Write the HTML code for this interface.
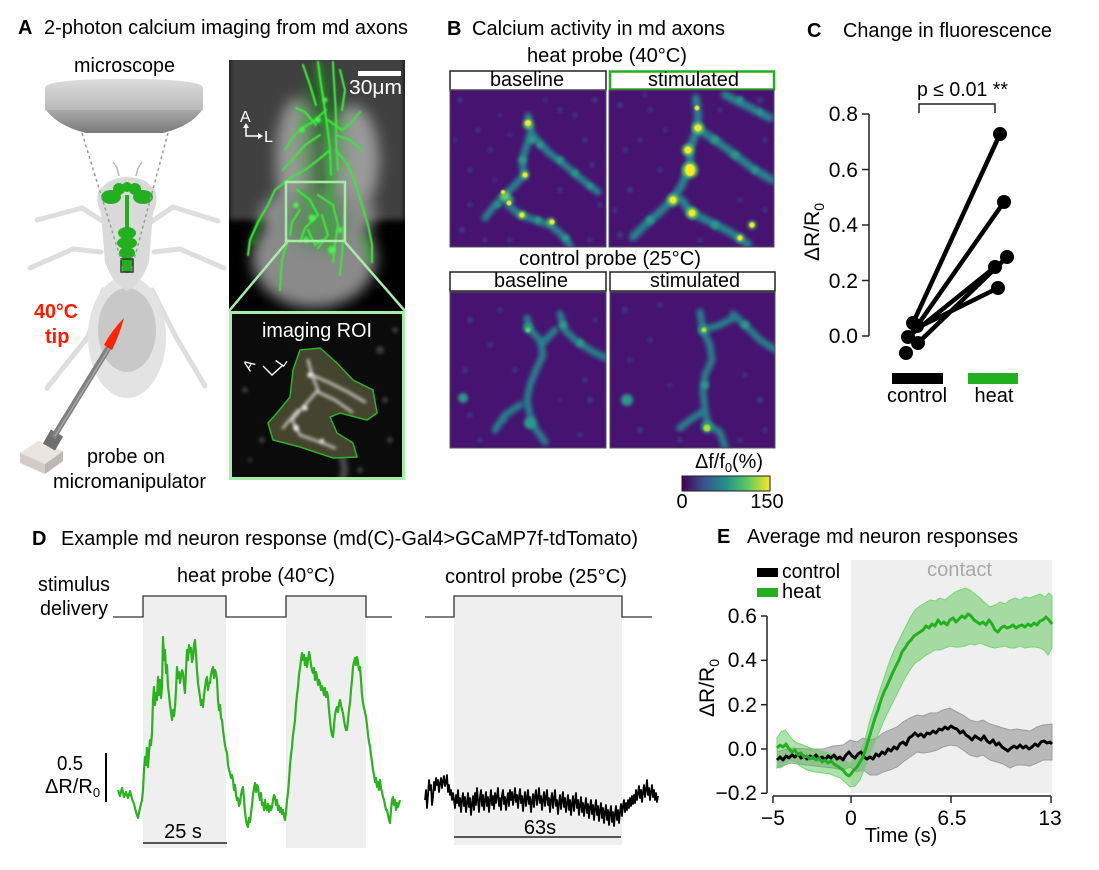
<!DOCTYPE html>
<html><head><meta charset="utf-8"><style>
html,body{margin:0;padding:0;background:#fff;}
svg{display:block;font-family:"Liberation Sans",Arial,sans-serif;}
</style></head><body>
<svg width="1099" height="870" viewBox="0 0 1099 870" xmlns="http://www.w3.org/2000/svg">
<defs>
<filter id="b06" filterUnits="userSpaceOnUse" x="0" y="0" width="1099" height="870"><feGaussianBlur stdDeviation="0.6"/></filter>
<filter id="b1" filterUnits="userSpaceOnUse" x="0" y="0" width="1099" height="870"><feGaussianBlur stdDeviation="1"/></filter>
<filter id="b15" filterUnits="userSpaceOnUse" x="0" y="0" width="1099" height="870"><feGaussianBlur stdDeviation="1.5"/></filter>
<filter id="b22" filterUnits="userSpaceOnUse" x="0" y="0" width="1099" height="870"><feGaussianBlur stdDeviation="2.2"/></filter>
<filter id="b3" filterUnits="userSpaceOnUse" x="0" y="0" width="1099" height="870"><feGaussianBlur stdDeviation="3"/></filter>
<filter id="b7" filterUnits="userSpaceOnUse" x="0" y="0" width="1099" height="870"><feGaussianBlur stdDeviation="7"/></filter>
<linearGradient id="vir" x1="0" x2="1" y1="0" y2="0">
<stop offset="0" stop-color="#440154"/><stop offset="0.25" stop-color="#3b528b"/><stop offset="0.5" stop-color="#21918c"/><stop offset="0.75" stop-color="#5ec962"/><stop offset="1" stop-color="#fde725"/>
</linearGradient>
<linearGradient id="mscTop" x1="0" x2="0" y1="0" y2="1"><stop offset="0" stop-color="#dcdcdc"/><stop offset="1" stop-color="#b9b9b9"/></linearGradient>
<linearGradient id="mscBot" x1="0" x2="0" y1="0" y2="1"><stop offset="0" stop-color="#a9a9a9"/><stop offset="1" stop-color="#7a7a7a"/></linearGradient>
<clipPath id="cMic"><rect x="229" y="60" width="176" height="251"/></clipPath>
<clipPath id="cIns"><rect x="230" y="312" width="174" height="167"/></clipPath>
<clipPath id="cH1"><rect x="450" y="90" width="156" height="157"/></clipPath>
<clipPath id="cH2"><rect x="609" y="90" width="165" height="157"/></clipPath>
<clipPath id="cH3"><rect x="450" y="292" width="156" height="156"/></clipPath>
<clipPath id="cH4"><rect x="610" y="292" width="165" height="156"/></clipPath>
</defs>

<!-- ================= PANEL A ================= -->
<text x="18" y="34" font-size="20" font-weight="bold">A</text>
<text x="44" y="34" font-size="20" textLength="364" lengthAdjust="spacingAndGlyphs">2-photon calcium imaging from md axons</text>
<text x="74" y="72" font-size="20" textLength="101" lengthAdjust="spacingAndGlyphs">microscope</text>

<path d="M45,88 Q45,79 124,79 Q203,79 203,88 L203,110 L45,110 Z" fill="url(#mscTop)"/>
<path d="M46,110 Q58,126 86,133 L163,133 Q191,126 202,110 Z" fill="url(#mscBot)"/>

<g stroke="#dedede" stroke-width="5" fill="none" stroke-linecap="round" stroke-linejoin="round">
<path d="M104,222 L82,208 L37,220"/>
<path d="M151,222 L173,207 L218,221"/>
<path d="M101,252 L73,249 L30,268"/>
<path d="M154,252 L180,249 L224,268"/>
<path d="M103,290 L88,337 L47,388"/>
<path d="M152,290 L176,337 L205,386"/>
</g>
<ellipse cx="127" cy="337" rx="39" ry="61" fill="#e3e3e3"/>
<ellipse cx="127" cy="330" rx="29" ry="42" fill="#c8c8c8"/>
<path d="M119,176 L117,168 L113,162 M136,176 L138,168 L142,162" stroke="#b8b8b8" stroke-width="1.5" fill="none"/>
<path d="M108,182 Q127,172 147,182 L155,190 Q159,200 153,213 L149,262 Q142,283 127,291 Q112,283 105,262 L101,213 Q95,200 99,190 Z" fill="#dadada"/>
<g fill="#22b01e">
<ellipse cx="111" cy="197" rx="10" ry="7"/><ellipse cx="143" cy="197" rx="10" ry="7"/>
<circle cx="119" cy="189" r="6"/><circle cx="135" cy="189" r="6"/><circle cx="127" cy="187" r="5"/>
<rect x="125" y="195" width="4" height="36"/>
<ellipse cx="127" cy="233" rx="9" ry="6"/><ellipse cx="127" cy="243" rx="10" ry="6"/>
<ellipse cx="127" cy="253" rx="8" ry="6"/><ellipse cx="127" cy="263" rx="6" ry="6"/><ellipse cx="127" cy="269" rx="5" ry="4"/>
</g>
<rect x="121" y="259" width="12" height="13" fill="none" stroke="#333" stroke-width="1.5"/>
<path d="M82,133 L121,260 M168,133 L134,260" stroke="#9a9a9a" stroke-width="1.5" stroke-dasharray="3,3" fill="none"/>

<text x="34" y="318" font-size="20" font-weight="bold" fill="#ff1a00" textLength="44" lengthAdjust="spacingAndGlyphs">40°C</text>
<text x="45" y="343" font-size="20" font-weight="bold" fill="#ff1a00">tip</text>

<polygon points="20,453 38,441 63,451 45,464" fill="#ebe5e1"/>
<polygon points="20,453 45,464 45,474 20,463" fill="#d2cbc7"/>
<polygon points="45,464 63,451 63,461 45,474" fill="#bdb6b2"/>
<line x1="49" y1="447" x2="57" y2="433" stroke="#6e6e6e" stroke-width="14"/>
<line x1="53" y1="438" x2="109" y2="347" stroke="#808080" stroke-width="6"/>
<line x1="55" y1="436" x2="110" y2="347" stroke="#a6a6a6" stroke-width="1.5"/>
<path d="M104,345 L112,350 Q119,336 124,318 Q112,330 104,345 Z" fill="#ff2200"/>

<text x="87" y="463" font-size="20" textLength="78" lengthAdjust="spacingAndGlyphs">probe on</text>
<text x="53" y="488" font-size="20" textLength="153" lengthAdjust="spacingAndGlyphs">micromanipulator</text>

<!-- microscope image -->
<g clip-path="url(#cMic)">
<rect x="229" y="60" width="176" height="251" fill="#000"/>
<rect x="229" y="55" width="176" height="165" fill="#404040" filter="url(#b3)"/>
<g filter="url(#b7)">
<ellipse cx="298" cy="160" rx="22" ry="62" fill="#9a9a9a"/>
<ellipse cx="352" cy="160" rx="27" ry="55" fill="#9a9a9a"/>
<ellipse cx="318" cy="215" rx="58" ry="28" fill="#8c8c8c"/>
<ellipse cx="314" cy="258" rx="62" ry="50" fill="#8a8a8a"/>
<path d="M317,82 L318,195" stroke="#2e2e2e" stroke-width="7"/>
</g>
<g fill="#1f8a1f" opacity="0.35" filter="url(#b7)">
<ellipse cx="322" cy="135" rx="24" ry="70"/>
<ellipse cx="318" cy="220" rx="30" ry="30"/>
</g>
<g stroke="#22bb22" stroke-width="5" fill="none" opacity="0.6" filter="url(#b3)">
<path d="M318,62 C322,95 328,125 330,175 L330,255"/>
<path d="M300,190 L312,205 L318,222 L305,240"/>
<path d="M262,215 L252,245"/>
<path d="M362,235 L370,262"/>
<path d="M300,125 L318,118 L338,130"/>
</g>
<g stroke="#3fe23f" stroke-width="2.2" fill="none" filter="url(#b06)" stroke-linecap="round">
<path d="M318,62 C322,95 328,125 330,150 L331,175"/>
<path d="M333,62 C334,90 337,112 336,140 L338,170"/>
<path d="M303,65 L310,85 L316,105"/>
<path d="M340,70 L345,90 L342,110"/>
<path d="M326,110 L313,122 L302,128 L292,138 L285,150"/>
<path d="M328,120 L342,130 L352,122 L360,112"/>
<path d="M316,125 L305,112 L296,108"/>
<path d="M320,135 L305,145 L292,160 L283,170"/>
<path d="M336,135 L350,140 L362,150"/>
<path d="M330,150 L318,160 L305,170 L290,178 L275,190 L268,205 L258,222 L250,240 L248,255"/>
<path d="M336,150 L348,165 L356,185 L362,205 L368,225 L372,245 L372,262"/>
<path d="M297,190 L310,200 L318,215 L305,228 L300,242"/>
<path d="M318,195 L333,205 L338,225 L334,250 L333,262"/>
<path d="M300,210 L292,222 L290,235"/>
<path d="M322,215 L328,235 L318,248"/>
<path d="M345,200 L344,230 L342,255 L340,275"/>
<path d="M288,240 L282,260 L280,290"/>
<path d="M308,230 L315,245 L322,240"/>
</g>
<g fill="#4cf04c" filter="url(#b1)">
<circle cx="332" cy="250" r="4"/><circle cx="312" cy="218" r="3.5"/><circle cx="302" cy="130" r="3"/><circle cx="340" cy="230" r="3"/>
<circle cx="318" cy="120" r="3"/><circle cx="306" cy="240" r="3"/><circle cx="325" cy="100" r="2.5"/><circle cx="296" cy="205" r="3"/>
</g>
</g>
<rect x="358" y="71" width="43" height="5" fill="#fff"/>
<text x="349" y="94" font-size="20" fill="#fff" textLength="53" lengthAdjust="spacingAndGlyphs">30μm</text>
<text x="240" y="122" font-size="16" fill="#fff">A</text>
<path d="M246,124 L246,136 L260,136" stroke="#fff" stroke-width="1.5" fill="none"/>
<path d="M243,128 L246,123 L249,128 Z M258,133 L263,136 L258,139 Z" fill="#fff"/>
<text x="264" y="142" font-size="16" fill="#fff">L</text>
<rect x="286" y="182" width="59" height="59" fill="none" stroke="#a6eca6" stroke-width="2.5"/>
<path d="M287,242 L229,311 M345,242 L405,311" stroke="#a6eca6" stroke-width="2.5"/>

<!-- inset -->
<g clip-path="url(#cIns)">
<rect x="230" y="312" width="174" height="167" fill="#0b0b0b"/>
<g fill="#3a3a3a" filter="url(#b15)">
<circle cx="245" cy="390" r="3"/><circle cx="262" cy="440" r="3"/><circle cx="380" cy="350" r="4"/><circle cx="395" cy="330" r="3"/>
<circle cx="360" cy="470" r="3"/><circle cx="390" cy="440" r="3"/><circle cx="250" cy="460" r="2"/><circle cx="385" cy="400" r="3"/>
</g>
<path d="M340,445 L345,470 L342,480" stroke="#666" stroke-width="5" fill="none" filter="url(#b3)"/>
<path d="M300,350 L320,348 L337,363 L353,380 L373,390 L377,413 L367,420 L340,413 L330,417 L337,433 L353,443 L357,457 L333,458 L300,447 L273,440 L268,423 L277,413 L290,397 L293,370 Z" fill="#45452f" stroke="#25b525" stroke-width="1.5"/>
<g stroke="#e6e6e6" stroke-width="2.5" fill="none" opacity="0.85" filter="url(#b15)" stroke-linecap="round">
<path d="M308,360 L312,375 L318,390 L305,405 L292,420 L300,435 L320,442 L335,448"/>
<path d="M312,375 L330,383 L348,392 L365,402"/>
<path d="M318,392 L335,400 L352,412"/>
<path d="M298,410 L283,428"/>
</g>
<g fill="#fff" filter="url(#b15)"><circle cx="310" cy="375" r="2.5"/><circle cx="305" cy="408" r="2.5"/><circle cx="296" cy="428" r="2.5"/><circle cx="322" cy="441" r="2"/></g>
<text x="262" y="337" font-size="20" fill="#fff" textLength="110" lengthAdjust="spacingAndGlyphs">imaging ROI</text>
<g fill="none" stroke="#fff" stroke-width="1.4">
<path d="M263,366 L272,375 L283,365"/>
</g>
<text transform="translate(250,372) rotate(-55)" font-size="15" fill="#fff">A</text>
<text transform="translate(283,368) rotate(-55)" font-size="15" fill="#fff">L</text>
</g>
<rect x="230.5" y="312.5" width="173" height="166" fill="none" stroke="#a6eca6" stroke-width="3"/>

<!-- ================= PANEL B ================= -->
<text x="447" y="35" font-size="20" font-weight="bold">B</text>
<text x="472" y="35" font-size="20" textLength="253" lengthAdjust="spacingAndGlyphs">Calcium activity in md axons</text>
<text x="527" y="62" font-size="20" textLength="160" lengthAdjust="spacingAndGlyphs">heat probe (40°C)</text>
<rect x="450" y="71" width="156" height="19" fill="#fff" stroke="#222" stroke-width="1.5"/>
<rect x="610" y="71.5" width="164" height="18" fill="#fff" stroke="#22b01e" stroke-width="2.5"/>
<text x="490" y="86" font-size="20" textLength="74" lengthAdjust="spacingAndGlyphs">baseline</text>
<text x="648" y="86" font-size="20" textLength="91" lengthAdjust="spacingAndGlyphs">stimulated</text>

<!-- heatmap TL -->
<g clip-path="url(#cH1)">
<rect x="450" y="90" width="156" height="157" fill="#461370"/>
<g fill="#3b4f8c" opacity="0.7" filter="url(#b15)">
<circle cx="460" cy="100" r="3"/><circle cx="478" cy="130" r="2.5"/><circle cx="595" cy="100" r="3"/><circle cx="470" cy="170" r="2.5"/><circle cx="585" cy="140" r="2.5"/><circle cx="560" cy="110" r="2.5"/><circle cx="462" cy="230" r="3"/><circle cx="590" cy="240" r="2.5"/><circle cx="485" cy="240" r="2.5"/><circle cx="500" cy="115" r="2"/><circle cx="600" cy="205" r="2.5"/>
<circle cx="490" cy="150" r="2.5"/><circle cx="470" cy="205" r="2.5"/><circle cx="545" cy="100" r="2"/><circle cx="575" cy="115" r="2.5"/><circle cx="592" cy="165" r="2.5"/><circle cx="455" cy="140" r="2"/><circle cx="510" cy="240" r="2.5"/><circle cx="495" cy="180" r="2"/><circle cx="560" cy="190" r="2.5"/><circle cx="510" cy="135" r="2"/>
</g>
<g stroke="#26828e" stroke-width="7" fill="none" filter="url(#b22)" stroke-linecap="round" stroke-linejoin="round">
<path d="M528,116 L531,130 L527,145 L522,160 L524,175 L515,185 L505,195 L508,205 L520,215 L535,220 L550,225 L560,233 L570,245"/>
<path d="M533,135 L548,152 L565,165 L580,178 L598,192"/>
<path d="M505,195 L495,205 L485,218"/>
</g>
<g fill="#2a9a88" filter="url(#b15)">
<circle cx="532" cy="140" r="4"/><circle cx="540" cy="145" r="3.5"/><circle cx="523" cy="160" r="4"/><circle cx="560" cy="160" r="3.5"/><circle cx="575" cy="173" r="3.5"/><circle cx="590" cy="186" r="3"/><circle cx="510" cy="200" r="4"/><circle cx="538" cy="220" r="3.5"/><circle cx="566" cy="238" r="3.5"/><circle cx="498" cy="205" r="3"/>
</g>
<g fill="#5ec962" filter="url(#b15)"><circle cx="528" cy="124" r="5"/><circle cx="525" cy="175" r="4"/><circle cx="505" cy="196" r="5"/><circle cx="522" cy="215" r="4"/><circle cx="551" cy="222" r="4"/></g>
<g fill="#fde725" filter="url(#b06)"><circle cx="528" cy="123" r="3"/><circle cx="525" cy="175" r="2.5"/><circle cx="503" cy="192" r="2"/><circle cx="509" cy="203" r="2.5"/><circle cx="522" cy="215" r="2.5"/><circle cx="552" cy="222" r="2.5"/></g>
</g>
<rect x="450" y="90" width="156" height="157" fill="none" stroke="#555" stroke-width="1"/>

<!-- heatmap TR -->
<g clip-path="url(#cH2)">
<rect x="609" y="90" width="165" height="157" fill="#461370"/>
<g fill="#3b4f8c" opacity="0.7" filter="url(#b15)">
<circle cx="620" cy="105" r="3"/><circle cx="640" cy="140" r="2.5"/><circle cx="630" cy="190" r="3"/><circle cx="760" cy="100" r="3"/><circle cx="650" cy="110" r="2.5"/><circle cx="620" cy="235" r="3"/><circle cx="765" cy="140" r="2.5"/><circle cx="700" cy="240" r="2.5"/>
<circle cx="625" cy="150" r="2.5"/><circle cx="660" cy="170" r="2.5"/><circle cx="665" cy="130" r="2"/><circle cx="740" cy="200" r="2.5"/><circle cx="765" cy="210" r="2.5"/><circle cx="720" cy="110" r="2"/><circle cx="645" cy="95" r="2"/><circle cx="615" cy="210" r="2.5"/>
</g>
<g stroke="#26828e" stroke-width="8" fill="none" filter="url(#b22)" stroke-linecap="round" stroke-linejoin="round">
<path d="M696,98 L698,115 L697,130 L690,148 L690,165 L682,185 L672,200 L660,212 L645,225 L633,237"/>
<path d="M682,200 L690,212 L710,222 L730,232 L748,244"/>
<path d="M700,130 L715,140 L735,155 L755,170 L772,180"/>
<path d="M725,95 L745,105 L770,118"/>
</g>
<g fill="#2a9a88" filter="url(#b15)">
<circle cx="715" cy="140" r="4"/><circle cx="735" cy="155" r="4"/><circle cx="755" cy="170" r="3.5"/><circle cx="650" cy="220" r="4"/><circle cx="715" cy="225" r="4"/><circle cx="740" cy="100" r="3.5"/><circle cx="760" cy="112" r="3"/>
</g>
<g fill="#5ec962" filter="url(#b15)"><circle cx="698" cy="128" r="6"/><circle cx="688" cy="150" r="6"/><circle cx="690" cy="170" r="8"/><circle cx="673" cy="200" r="6"/><circle cx="692" cy="213" r="6"/><circle cx="752" cy="225" r="4"/><circle cx="740" cy="238" r="4"/></g>
<g fill="#fde725" filter="url(#b06)"><circle cx="698" cy="128" r="3.5"/><circle cx="688" cy="150" r="3.5"/><ellipse cx="690" cy="170" rx="5" ry="6"/><circle cx="673" cy="200" r="3.5"/><circle cx="692" cy="213" r="3.5"/><circle cx="752" cy="225" r="2.5"/><circle cx="740" cy="238" r="2.5"/><circle cx="697" cy="108" r="2.5"/></g>
</g>
<rect x="609" y="90" width="165" height="157" fill="none" stroke="#555" stroke-width="1"/>

<text x="519" y="265" font-size="20" textLength="182" lengthAdjust="spacingAndGlyphs">control probe (25°C)</text>
<rect x="450" y="272" width="156" height="19" fill="#fff" stroke="#222" stroke-width="1.5"/>
<rect x="610" y="272" width="165" height="19" fill="#fff" stroke="#222" stroke-width="1.5"/>
<text x="494" y="287" font-size="20" textLength="74" lengthAdjust="spacingAndGlyphs">baseline</text>
<text x="650" y="287" font-size="20" textLength="90" lengthAdjust="spacingAndGlyphs">stimulated</text>

<!-- heatmap BL -->
<g clip-path="url(#cH3)">
<rect x="450" y="292" width="156" height="156" fill="#461370"/>
<g fill="#3b4f8c" opacity="0.7" filter="url(#b15)">
<circle cx="470" cy="320" r="3"/><circle cx="490" cy="345" r="2.5"/><circle cx="465" cy="370" r="3"/><circle cx="590" cy="400" r="3"/><circle cx="505" cy="420" r="3"/><circle cx="480" cy="440" r="2.5"/><circle cx="580" cy="435" r="2.5"/>
<circle cx="500" cy="310" r="2.5"/><circle cx="585" cy="380" r="2.5"/><circle cx="470" cy="415" r="2.5"/><circle cx="560" cy="400" r="2"/><circle cx="515" cy="370" r="2.5"/><circle cx="595" cy="320" r="2"/>
</g>
<g stroke="#25808a" stroke-width="7" fill="none" filter="url(#b22)" stroke-linecap="round" stroke-linejoin="round">
<path d="M527,318 L530,330 L540,340 L543,355 L536,370 L530,385 L527,400 L530,415 L535,428 L545,442"/>
<path d="M560,314 L565,330 L575,340 L590,350 L606,358"/>
<path d="M543,343 L555,330"/>
<path d="M520,405 L505,415 L495,430"/>
</g>
<g fill="#2a9a88" filter="url(#b15)"><circle cx="463" cy="398" r="5"/><circle cx="530" cy="423" r="6"/><circle cx="528" cy="328" r="5"/><circle cx="563" cy="325" r="4"/><circle cx="580" cy="343" r="4"/></g>
<circle cx="528" cy="330" r="2.5" fill="#5ec962" filter="url(#b06)"/>
</g>
<rect x="450" y="292" width="156" height="156" fill="none" stroke="#555" stroke-width="1"/>

<!-- heatmap BR -->
<g clip-path="url(#cH4)">
<rect x="610" y="292" width="165" height="156" fill="#461370"/>
<g fill="#3b4f8c" opacity="0.7" filter="url(#b15)">
<circle cx="625" cy="310" r="3"/><circle cx="650" cy="340" r="2.5"/><circle cx="640" cy="430" r="3"/><circle cx="760" cy="400" r="3"/><circle cx="765" cy="430" r="2.5"/><circle cx="680" cy="440" r="2.5"/>
<circle cx="660" cy="305" r="2.5"/><circle cx="630" cy="360" r="2.5"/><circle cx="745" cy="375" r="2.5"/><circle cx="670" cy="385" r="2"/><circle cx="740" cy="440" r="2.5"/>
</g>
<g stroke="#25808a" stroke-width="7" fill="none" filter="url(#b22)" stroke-linecap="round" stroke-linejoin="round">
<path d="M700,312 L703,330 L710,345 L712,360 L705,375 L703,392 L705,410 L708,425 L720,432 L725,447"/>
<path d="M733,314 L745,325 L760,340 L776,350"/>
<path d="M703,330 L720,325 L733,318"/>
<path d="M705,410 L690,420 L680,428"/>
</g>
<g fill="#2a9a88" filter="url(#b15)"><circle cx="627" cy="400" r="6"/><circle cx="703" cy="330" r="5"/><circle cx="707" cy="427" r="6"/><circle cx="745" cy="325" r="4"/><circle cx="705" cy="385" r="4"/></g>
<g fill="#b5de2b" filter="url(#b06)"><circle cx="707" cy="428" r="3.5"/><circle cx="704" cy="330" r="2.5"/></g>
</g>
<rect x="610" y="292" width="165" height="156" fill="none" stroke="#555" stroke-width="1"/>

<text x="695" y="468" font-size="20" textLength="68" lengthAdjust="spacingAndGlyphs">Δf/f<tspan font-size="13" dy="4">0</tspan><tspan dy="-4">(%)</tspan></text>
<rect x="682" y="476" width="88" height="15" fill="url(#vir)" stroke="#222" stroke-width="1"/>
<text x="682" y="508" font-size="20" text-anchor="middle">0</text>
<text x="767" y="508" font-size="20" text-anchor="middle">150</text>

<!-- ================= PANEL C ================= -->
<text x="807" y="37" font-size="20" font-weight="bold">C</text>
<text x="843" y="37" font-size="20" textLength="209" lengthAdjust="spacingAndGlyphs">Change in fluorescence</text>
<text x="917" y="96" font-size="20" textLength="91" lengthAdjust="spacingAndGlyphs">p ≤ 0.01 **</text>
<path d="M919,113 L919,104 L995,104 L995,113" stroke="#222" stroke-width="1.5" fill="none"/>
<g stroke="#222" stroke-width="1.5">
<line x1="869" y1="114" x2="869" y2="336"/>
<line x1="862" y1="114" x2="869" y2="114"/>
<line x1="862" y1="169.5" x2="869" y2="169.5"/>
<line x1="862" y1="225" x2="869" y2="225"/>
<line x1="862" y1="280.5" x2="869" y2="280.5"/>
<line x1="862" y1="336" x2="869" y2="336"/>
</g>
<g font-size="21" text-anchor="end">
<text x="858" y="121">0.8</text><text x="858" y="177">0.6</text><text x="858" y="232">0.4</text><text x="858" y="288">0.2</text><text x="858" y="343">0.0</text>
</g>
<text transform="translate(819,232) rotate(-90)" font-size="21" text-anchor="middle">ΔR/R<tspan font-size="14" dy="5">0</tspan></text>
<g stroke="#000" stroke-width="4.5" stroke-linecap="round">
<line x1="913" y1="323" x2="1000" y2="134"/>
<line x1="917" y1="326" x2="1004" y2="202"/>
<line x1="918" y1="343" x2="1007" y2="257"/>
<line x1="908" y1="337" x2="995" y2="267"/>
<line x1="913" y1="330" x2="998" y2="288"/>
</g>
<g fill="#000">
<circle cx="1000" cy="134" r="7"/><circle cx="1004" cy="202" r="7"/><circle cx="1007" cy="257" r="7"/><circle cx="995" cy="267" r="7"/><circle cx="998" cy="288" r="7"/>
<circle cx="913" cy="323" r="7"/><circle cx="917" cy="326" r="7"/><circle cx="908" cy="337" r="7"/><circle cx="918" cy="343" r="7"/><circle cx="906" cy="353" r="7"/>
</g>
<rect x="892" y="373" width="51" height="11" fill="#000"/>
<rect x="968" y="373" width="50" height="11" fill="#22b01e"/>
<text x="917" y="402" font-size="20" text-anchor="middle">control</text>
<text x="994" y="402" font-size="20" text-anchor="middle">heat</text>

<!-- ================= PANEL D ================= -->
<text x="32" y="545" font-size="20" font-weight="bold">D</text>
<text x="61" y="545" font-size="20" textLength="577" lengthAdjust="spacingAndGlyphs">Example md neuron response (md(C)-Gal4&gt;GCaMP7f-tdTomato)</text>
<text x="177" y="582" font-size="20" textLength="158" lengthAdjust="spacingAndGlyphs">heat probe (40°C)</text>
<text x="445" y="583" font-size="20" textLength="182" lengthAdjust="spacingAndGlyphs">control probe (25°C)</text>
<text x="38" y="591" font-size="20" textLength="72" lengthAdjust="spacingAndGlyphs">stimulus</text>
<text x="40" y="615" font-size="20" textLength="68" lengthAdjust="spacingAndGlyphs">delivery</text>
<rect x="143" y="596" width="83" height="252" fill="#efefef"/>
<rect x="286" y="596" width="80" height="252" fill="#efefef"/>
<rect x="454" y="596" width="168" height="249" fill="#efefef"/>
<path d="M113,617 H143 V596 H226 V617 H286 V596 H366 V617 H392" stroke="#333" stroke-width="1.3" fill="none"/>
<path d="M425,617 H454 V596 H622 V617 H652" stroke="#333" stroke-width="1.3" fill="none"/>
<line x1="106" y1="753" x2="106" y2="802" stroke="#000" stroke-width="2"/>
<text x="57" y="770" font-size="20" textLength="26" lengthAdjust="spacingAndGlyphs">0.5</text>
<text x="45" y="793" font-size="20">ΔR/R<tspan font-size="13" dy="4">0</tspan></text>
<line x1="143" y1="843" x2="227" y2="843" stroke="#222" stroke-width="1.5"/>
<text x="183" y="838" font-size="20" text-anchor="middle">25 s</text>
<line x1="454" y1="837" x2="621" y2="837" stroke="#222" stroke-width="1.5"/>
<text x="540" y="834" font-size="20" text-anchor="middle">63s</text>

<polyline fill="none" stroke="#2ab21f" stroke-width="2.2" stroke-linejoin="round" points="118,790 120,796 122,788 124,797 126,792 128,798 130,791 132,799 134,804 136,812 138,818 140,808 142,800 143,790 144,770 145,757 146,765 147,748 148,767 149,752 150,740 151,745 152,733 153,700 154,687 155,705 156,693 157,700 158,677 159,695 160,680 161,698 162,687 163,637 164,660 165,650 166,673 167,665 168,687 169,695 170,705 171,712 172,720 173,710 174,716 175,707 176,690 177,667 178,678 179,672 180,683 181,676 182,670 183,673 184,685 185,693 186,670 187,650 188,660 189,645 190,652 191,648 192,662 193,658 194,645 195,640 196,655 197,670 198,683 199,690 200,697 201,705 202,700 203,707 204,695 205,688 206,680 207,677 208,690 209,683 210,683 211,675 212,670 213,667 214,678 215,670 216,673 217,680 218,700 219,710 220,705 221,718 222,720 223,730 224,738 225,745 226,750 227,753 228,765 229,770 230,773 231,778 232,775 233,780 234,790 235,785 236,795 237,800 238,798 239,806 240,803 241,795 242,790 243,787 244,800 245,812 246,820 247,825 248,827 249,818 250,822 251,813 252,805 253,795 254,788 255,783 256,792 257,785 258,787 259,795 260,800 261,793 262,805 263,803 264,810 265,800 266,808 267,810 268,804 269,812 270,806 271,810 272,807 273,800 274,795 275,797 276,805 277,800 278,810 279,806 280,812 281,808 282,814 283,810 284,816 285,820 286,812 287,800 288,793 289,780 290,765 291,755 292,747 293,735 294,728 295,720 296,705 297,695 298,687 299,675 300,668 301,660 302,653 303,660 304,655 305,665 306,658 307,667 308,660 309,652 310,657 311,665 312,670 313,673 314,668 315,680 316,672 317,677 318,685 319,680 320,683 321,690 322,686 323,690 324,695 325,688 326,697 327,692 328,697 329,710 330,720 331,730 332,735 333,737 334,725 335,715 336,710 337,707 338,712 339,704 340,700 341,705 342,710 343,713 344,720 345,726 346,730 347,730 348,720 349,710 350,703 351,690 352,680 353,667 354,662 355,658 356,665 357,657 358,662 359,670 360,667 361,680 362,695 363,703 364,708 365,712 366,717 367,725 368,735 369,742 370,747 371,755 372,762 373,770 374,775 375,782 376,778 377,787 378,782 379,790 380,780 381,788 382,792 383,797 384,800 385,805 386,810 387,810 388,815 389,820 390,823 391,810 392,800 393,797 394,805 395,800 396,810 397,803 398,807 400,800"/>

<polyline fill="none" stroke="#000" stroke-width="1.8" stroke-linejoin="round" points="425,800 426,790 427,808 428,795 429,780 430,790 431,785 432,805 433,797 434,782 435,790 436,778 437,785 438,780 439,792 440,783 441,778 442,788 443,781 444,776 445,786 446,782 447,775 448,792 449,785 450,795 451,790 452,800 453,793 454,800 455,808 456,795 457,803 458,790 459,806 460,798 461,812 462,800 463,793 464,806 465,797 466,812 467,803 468,793 469,807 470,798 471,815 472,804 473,796 474,810 475,793 476,805 477,788 478,800 479,812 480,797 481,790 482,806 483,795 484,810 485,800 486,792 487,806 488,797 489,812 490,800 491,790 492,805 493,796 494,809 495,793 496,803 497,796 498,788 499,806 500,798 501,810 502,795 503,790 504,804 505,797 506,810 507,800 508,793 509,806 510,790 511,800 512,792 513,805 514,797 515,788 516,802 517,795 518,808 519,797 520,789 521,803 522,796 523,811 524,800 525,792 526,806 527,798 528,790 529,804 530,797 531,812 532,802 533,794 534,807 535,796 536,790 537,805 538,798 539,788 540,803 541,796 542,810 543,800 544,792 545,806 546,797 547,790 548,805 549,798 550,812 551,800 552,793 553,808 554,799 555,790 556,806 557,800 558,814 559,803 560,795 561,809 562,800 563,792 564,807 565,798 566,812 567,803 568,795 569,810 570,800 571,815 572,804 573,796 574,811 575,801 576,793 577,808 578,800 579,815 580,805 581,797 582,812 583,803 584,816 585,806 586,798 587,813 588,804 589,818 590,807 591,800 592,814 593,805 594,820 595,808 596,800 597,815 598,806 599,821 600,810 601,803 602,818 603,808 604,823 605,812 606,805 607,820 608,810 609,825 610,813 611,806 612,822 613,812 614,826 615,814 616,806 617,820 618,810 619,823 620,812 621,804 622,816 623,806 624,800 625,812 626,803 627,810 628,800 629,808 630,798 631,806 632,796 633,804 634,795 635,803 636,790 637,800 638,793 639,786 640,798 641,790 642,802 643,792 644,785 645,797 646,790 647,780 648,795 649,788 650,800 651,792 652,785 653,797 654,790 655,800 656,793 657,802 658,796"/>

<!-- ================= PANEL E ================= -->
<text x="717" y="543" font-size="20" font-weight="bold">E</text>
<text x="747" y="543" font-size="20" textLength="271" lengthAdjust="spacingAndGlyphs">Average md neuron responses</text>
<rect x="851" y="560" width="201" height="233" fill="#efefef"/>
<text x="927" y="576" font-size="20" fill="#a9a9a9" textLength="65" lengthAdjust="spacingAndGlyphs">contact</text>
<rect x="757" y="568" width="21" height="9" fill="#000"/>
<text x="782" y="578" font-size="20" textLength="58" lengthAdjust="spacingAndGlyphs">control</text>
<rect x="757" y="588" width="21" height="9" fill="#22b01e"/>
<text x="782" y="598" font-size="20">heat</text>

<polygon fill="#8d8d8d" fill-opacity="0.55" stroke="#9c9c9c" stroke-width="1" points="777,752 790,748 807,749 823,749 833,746 843,745 850,740 857,742 863,738 870,740 877,738 883,733 890,730 897,727 903,722 910,718 917,715 923,716 930,713 937,713 943,710 950,708 957,712 963,715 970,720 977,722 983,720 990,724 997,726 1003,728 1010,730 1017,729 1023,730 1030,731 1037,727 1043,725 1052,724 1052,760 1043,760 1037,763 1030,766 1023,765 1017,765 1010,768 1003,764 997,762 990,760 983,755 977,757 970,755 963,750 957,746 950,745 943,747 937,750 930,752 923,753 917,752 910,757 903,762 897,767 890,770 883,772 877,775 870,775 863,770 857,772 850,767 843,770 833,768 823,767 807,765 790,763 777,768"/>
<polygon fill="#5cc858" fill-opacity="0.5" stroke="#74d671" stroke-width="1" points="777,738 781,732 785,730 789,735 793,740 797,743 803,745 810,748 817,750 825,752 832,754 838,756 844,760 850,763 855,757 860,752 865,740 870,720 875,705 880,690 885,675 890,660 895,648 900,638 905,628 910,618 915,610 920,606 925,603 930,600 935,601 940,598 945,600 950,596 955,592 960,590 965,588 970,590 975,594 980,598 985,603 990,607 995,605 1000,602 1005,604 1010,600 1015,598 1020,600 1025,597 1030,598 1035,596 1040,594 1045,597 1049,593 1052,596 1052,648 1048,655 1044,650 1040,648 1035,647 1030,647 1025,648 1020,646 1015,648 1010,648 1005,646 1000,647 995,648 990,647 985,645 980,643 975,645 970,644 965,646 960,647 955,647 950,646 945,648 940,650 935,650 930,653 925,656 920,660 915,663 910,670 905,678 900,688 895,698 890,708 885,718 880,730 875,742 870,754 865,768 860,780 855,786 850,787 845,782 840,778 835,776 830,774 823,773 815,772 807,770 800,766 795,762 790,760 785,765 780,768 777,766"/>
<polyline fill="none" stroke="#000" stroke-width="3" stroke-linejoin="round" points="777,760 780,757 783,760 786,756 789,758 792,755 795,757 798,754 801,758 804,756 807,759 810,756 813,758 816,755 819,759 822,757 825,760 828,756 831,758 834,755 837,759 840,757 843,760 846,755 849,752 852,756 855,758 858,754 861,752 864,757 867,759 870,757 873,759 876,754 879,756 882,752 885,754 888,749 891,751 894,747 897,749 900,744 903,742 906,745 909,738 912,736 915,733 918,736 921,734 924,737 927,733 930,734 933,731 936,733 939,729 942,730 945,727 948,729 951,726 954,728 957,729 960,733 963,731 966,735 969,737 972,740 975,736 978,738 981,740 984,736 987,741 990,743 993,740 996,745 999,743 1002,747 1005,749 1008,751 1011,748 1014,746 1017,748 1020,745 1023,748 1026,746 1029,749 1032,747 1035,744 1038,746 1041,742 1044,741 1047,743 1050,742 1052,744"/>
<polyline fill="none" stroke="#22b01e" stroke-width="3" stroke-linejoin="round" points="777,748 780,745 783,747 786,744 789,749 792,752 795,750 798,755 801,753 804,757 807,756 810,759 813,757 816,760 819,758 822,762 825,760 828,763 831,761 834,764 837,766 840,768 843,770 846,774 849,776 851,774 854,770 857,767 860,762 863,757 866,748 869,738 872,728 875,718 878,710 881,700 884,692 887,686 890,679 893,672 896,666 899,660 902,652 905,648 908,643 911,640 914,636 917,634 920,632 923,630 926,626 929,628 932,624 935,626 938,620 941,624 944,622 947,625 950,620 953,618 956,622 959,619 962,616 965,618 968,614 971,616 974,620 977,622 980,624 983,622 986,625 989,620 992,624 995,630 998,632 1001,628 1004,626 1007,628 1010,627 1013,625 1016,628 1019,626 1022,625 1025,627 1028,624 1031,626 1034,623 1037,625 1040,621 1043,620 1046,617 1049,620 1052,624"/>

<g stroke="#222" stroke-width="1.5">
<line x1="767" y1="616" x2="767" y2="793.3"/>
<line x1="761" y1="616" x2="767" y2="616"/>
<line x1="761" y1="660.3" x2="767" y2="660.3"/>
<line x1="761" y1="704.7" x2="767" y2="704.7"/>
<line x1="761" y1="749" x2="767" y2="749"/>
<line x1="761" y1="793.3" x2="767" y2="793.3"/>
<line x1="773" y1="796" x2="1051" y2="796"/>
<line x1="773" y1="796" x2="773" y2="803"/>
<line x1="851" y1="796" x2="851" y2="803"/>
<line x1="951" y1="796" x2="951" y2="803"/>
<line x1="1051" y1="796" x2="1051" y2="803"/>
</g>
<g font-size="21" text-anchor="end">
<text x="757" y="623">0.6</text><text x="757" y="667">0.4</text><text x="757" y="712">0.2</text><text x="757" y="756">0.0</text><text x="757" y="800">−0.2</text>
</g>
<g font-size="21" text-anchor="middle">
<text x="773" y="825">−5</text><text x="851" y="825">0</text><text x="952" y="825">6.5</text><text x="1050" y="825">13</text>
</g>
<text x="901" y="842" font-size="20" text-anchor="middle">Time (s)</text>
<text transform="translate(714,688) rotate(-90)" font-size="21" text-anchor="middle">ΔR/R<tspan font-size="14" dy="5">0</tspan></text>
</svg>
</body></html>
